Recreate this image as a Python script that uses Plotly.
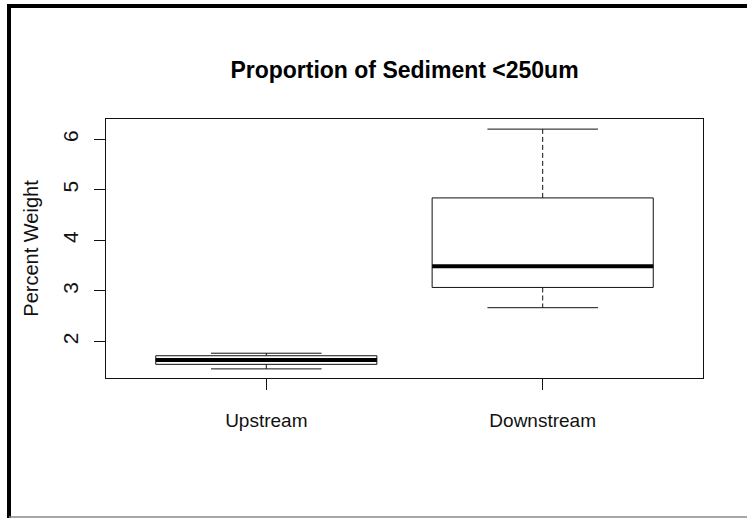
import plotly.graph_objects as go

# Five-number summaries for each sampling site
categories = ["Upstream", "Downstream"]
lower_whisker = [1.46, 2.67]
q1 = [1.55, 3.07]
median = [1.635, 3.49]
q3 = [1.72, 4.84]
upper_whisker = [1.77, 6.20]

y_ticks = [2, 3, 4, 5, 6]

BOX_HALF = 0.4   # half box width in category units
CAP_HALF = 0.2   # half staple width

W, H = 747, 518
ML, MR, MT, MB = 106, 44, 119, 140
PW, PH = W - ML - MR, H - MT - MB


def px_x(px):
    return (px - ML) / PW


def px_y(py):
    return (H - MB - py) / PH


FONT = "Liberation Sans, Arial, sans-serif"
INK = "#111111"

fig = go.Figure()

for i, name in enumerate(categories):
    xc = i + 1
    # dashed whiskers
    fig.add_trace(go.Scatter(
        x=[xc, xc, None, xc, xc],
        y=[q3[i], upper_whisker[i], None, q1[i], lower_whisker[i]],
        mode="lines", line=dict(color=INK, width=1, dash="5px,3px"),
        hoverinfo="skip", showlegend=False))
    # staples
    fig.add_trace(go.Scatter(
        x=[xc - CAP_HALF, xc + CAP_HALF, None, xc - CAP_HALF, xc + CAP_HALF],
        y=[upper_whisker[i], upper_whisker[i], None, lower_whisker[i], lower_whisker[i]],
        mode="lines", line=dict(color=INK, width=1),
        hoverinfo="skip", showlegend=False))
    # box
    fig.add_trace(go.Scatter(
        x=[xc - BOX_HALF, xc + BOX_HALF, xc + BOX_HALF, xc - BOX_HALF, xc - BOX_HALF],
        y=[q1[i], q1[i], q3[i], q3[i], q1[i]],
        mode="lines", fill="toself", fillcolor="white",
        line=dict(color=INK, width=1),
        hoverinfo="skip", showlegend=False))
    # median
    fig.add_trace(go.Scatter(
        x=[xc - BOX_HALF, xc + BOX_HALF],
        y=[median[i], median[i]],
        mode="lines", line=dict(color="black", width=4),
        hoverinfo="skip", showlegend=False))

# outer frame of the page
frame = [
    dict(x0=px_x(7), x1=px_x(W + 2), y0=px_y(6), y1=px_y(6), color="black", width=4),
    dict(x0=px_x(9), x1=px_x(9), y0=px_y(4), y1=px_y(H + 2), color="black", width=4),
    dict(x0=px_x(9), x1=px_x(W + 2), y0=px_y(517), y1=px_y(517), color="#8a8a8a", width=1.5),
]
for f in frame:
    fig.add_shape(type="line", xref="paper", yref="paper",
                  x0=f["x0"], x1=f["x1"], y0=f["y0"], y1=f["y1"],
                  line=dict(color=f["color"], width=f["width"]), layer="above")

fig.update_layout(
    width=W, height=H,
    margin=dict(l=ML, r=MR, t=MT, b=MB),
    paper_bgcolor="white", plot_bgcolor="white",
    font=dict(family=FONT, color=INK, size=19),
    title=dict(text="<b>Proportion of Sediment <250um</b>",
               font=dict(family=FONT, size=23, color="black"),
               xref="paper", x=0.5, xanchor="center",
               yref="container", y=1 - 70 / H, yanchor="middle"),
    xaxis=dict(range=[0.42, 2.58], tickmode="array", tickvals=[1, 2],
               ticktext=categories, ticks="outside", ticklen=11,
               tickcolor=INK, showline=True, mirror=True, linecolor=INK,
               linewidth=1, showgrid=False, zeroline=False,
               ticklabelstandoff=14, tickfont=dict(size=19)),
    yaxis=dict(range=[1.28, 6.40], tickmode="array", tickvals=y_ticks,
               ticks="outside", ticklen=11, tickangle=-90,
               tickcolor=INK, showline=True, mirror=True, linecolor=INK,
               linewidth=1, showgrid=False, zeroline=False,
               ticklabelstandoff=8, tickfont=dict(size=21),
               title=dict(text="Percent Weight", font=dict(size=20), standoff=14)),
)

fig.write_html("out.html")
